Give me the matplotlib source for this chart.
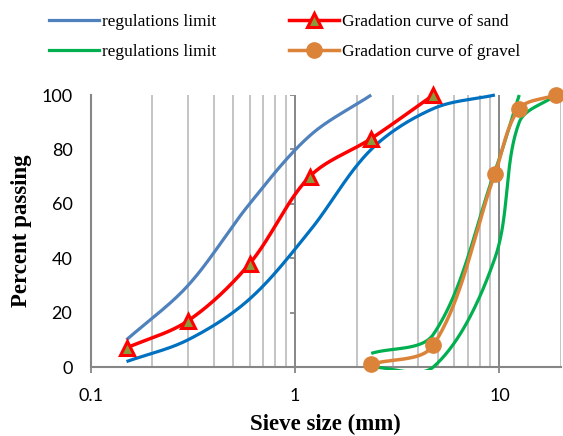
import numpy as np
import matplotlib
matplotlib.use("Agg")
import matplotlib.pyplot as plt
from matplotlib.markers import TICKLEFT
from matplotlib.transforms import Bbox, TransformedBbox
from matplotlib.lines import Line2D

# ---- data ----
sand_limit_x = [0.15, 0.3, 0.6, 1.18, 2.36]
sand_upper_y = [10, 30, 60, 85, 100]
sand_lower_x = [0.15, 0.3, 0.6, 1.18, 2.36, 4.75, 9.5]
sand_lower_y = [2, 10, 25, 50, 80, 95, 100]
sand_x = [0.15, 0.3, 0.6, 1.18, 2.36, 4.75]
sand_y = [7, 17, 38, 70, 84, 100]
gravel_upper_x = [2.36, 4.75, 9.5, 12.5]
gravel_upper_y = [5, 12, 72, 100]
gravel_lower_x = [2.36, 4.75, 9.5, 12.5, 19]
gravel_lower_y = [0, 0, 40, 90, 100]
gravel_x = [2.36, 4.75, 9.5, 12.5, 19]
gravel_y = [1, 8, 71, 95, 100]
y_ticks = [0, 20, 40, 60, 80, 100]
x_ticks = [0.1, 1, 10]
x_tick_labels = ["0.1", "1", "10"]
minor_x = [0.2, 0.3, 0.4, 0.5, 0.6, 0.7, 0.8, 0.9,
           2, 3, 4, 5, 6, 7, 8, 9, 20]

W, H = 563, 436
fig = plt.figure(figsize=(W / 100, H / 100), dpi=100)
L, R, T, B = 90.5, 561, 95, 367
ax = fig.add_axes([L / W, 1 - B / H, (R - L) / W, (B - T) / H])
ax.set_xscale("log")
ax.set_xlim(0.1, 20)
ax.set_ylim(0, 100)

# grid
ax.set_xticks(x_ticks)
ax.set_xticklabels(x_tick_labels)
ax.set_xticks(minor_x, minor=True)
ax.set_yticks(y_ticks)
ax.xaxis.grid(True, which="minor", color="#BFBFBF", lw=1.3)
ax.tick_params(axis="x", which="minor", length=0, labelbottom=False)
ax.tick_params(axis="x", which="major", length=4, width=1.3, color="#868686",
               direction="out", pad=11, labelsize=13)
ax.tick_params(axis="y", length=0, pad=13, labelsize=13)
for lab in ax.get_xticklabels() + ax.get_yticklabels():
    lab.set_fontfamily("Lato")
for s in ["top", "right"]:
    ax.spines[s].set_visible(False)
for s in ["left", "bottom"]:
    ax.spines[s].set_color("#868686")
    ax.spines[s].set_linewidth(1.5)
ax.set_axisbelow(True)

# darker vertical lines at 1 and 10, with y ticks at x=1
for xv in [1, 10]:
    ax.axvline(xv, color="#868686", lw=1.4, zorder=1)
ax.plot([1] * (len(y_ticks) - 1), y_ticks[1:], ls="none", marker=TICKLEFT,
        ms=3.5, mew=1.3, color="#868686", zorder=1)


def excel_smooth(xs, ys, n=40):
    """Bezier smoothing in screen space; control arms scaled by segment length."""
    P = ax.transData.transform(np.column_stack([xs, ys]))
    m = len(P)
    cin = P.copy()
    cout = P.copy()
    for i in range(m):
        prev = P[max(i - 1, 0)]
        nxt = P[min(i + 1, m - 1)]
        tan = nxt - prev
        d0 = np.hypot(*(P[i] - prev))
        d1 = np.hypot(*(nxt - P[i]))
        tot = d0 + d1
        if tot == 0:
            continue
        cin[i] = P[i] - tan * d0 / tot / 3.0
        cout[i] = P[i] + tan * d1 / tot / 3.0
    out = []
    t = np.linspace(0, 1, n)[:, None]
    for i in range(m - 1):
        p1, c1, c2, p2 = P[i], cout[i], cin[i + 1], P[i + 1]
        seg = ((1 - t) ** 3) * p1 + 3 * ((1 - t) ** 2) * t * c1 \
            + 3 * (1 - t) * t ** 2 * c2 + t ** 3 * p2
        out.append(seg if i == 0 else seg[1:])
    c = ax.transData.inverted().transform(np.vstack(out))
    return c[:, 0], c[:, 1]


clip = TransformedBbox(Bbox([[0, -0.012], [1, 1.012]]), ax.transAxes)

def curve(xs, ys, color, lw, z=3, clipped=False):
    cx, cy = excel_smooth(xs, ys)
    ln, = ax.plot(cx, cy, color=color, lw=lw, zorder=z,
                  solid_capstyle="butt")
    if clipped:
        ln.set_clip_box(clip)
    else:
        ln.set_clip_on(False)
    return ln

BLUE_U, BLUE_L = "#4F81BD", "#0070C0"
GREEN, RED, ORANGE, OLIVE = "#00B050", "#FF0000", "#DC833A", "#8A9A3B"

curve(sand_limit_x, sand_upper_y, BLUE_U, 2.3)
curve(sand_lower_x, sand_lower_y, BLUE_L, 2.3)
curve(gravel_upper_x, gravel_upper_y, GREEN, 2.3, clipped=True)
curve(gravel_lower_x, gravel_lower_y, GREEN, 2.3, clipped=True)
curve(sand_x, sand_y, RED, 2.5, z=4)
curve(gravel_x, gravel_y, ORANGE, 2.5, z=4)
ax.plot(sand_x, sand_y, ls="none", marker="^", ms=9.5, mfc=OLIVE, mec=RED,
        mew=2.2, zorder=5, clip_on=False)
ax.plot(gravel_x, gravel_y, ls="none", marker="o", ms=11, mfc=ORANGE,
        mec=ORANGE, zorder=5, clip_on=False)

# labels
lab_font = dict(family="Liberation Serif", weight="bold", size=16.5)
ax.set_xlabel("Sieve size (mm)", **lab_font)
ax.xaxis.set_label_coords(0.5, -0.172)
ax.set_ylabel("Percent passing", **lab_font)
ax.yaxis.set_label_coords(-0.124, 0.5)

# legend
handles = [
    Line2D([], [], color=BLUE_U, lw=2.3),
    Line2D([], [], color=GREEN, lw=2.3),
    Line2D([], [], color=RED, lw=2.5, marker="^", ms=9.5, mfc=OLIVE, mec=RED, mew=2.2),
    Line2D([], [], color=ORANGE, lw=2.5, marker="o", ms=11, mfc=ORANGE, mec=ORANGE),
]
labels = ["regulations limit", "regulations limit",
          "Gradation curve of sand", "Gradation curve of gravel"]
fig.legend(handles, labels, loc="upper left", bbox_to_anchor=(49 / W, 1 - 14 / H),
           ncol=2, frameon=False, prop=dict(family="Liberation Serif", size=12.4),
           handlelength=2.9, handletextpad=0.2, columnspacing=4.2,
           labelspacing=0.8, borderpad=0, borderaxespad=0)

fig.savefig("out.png", dpi=100)
